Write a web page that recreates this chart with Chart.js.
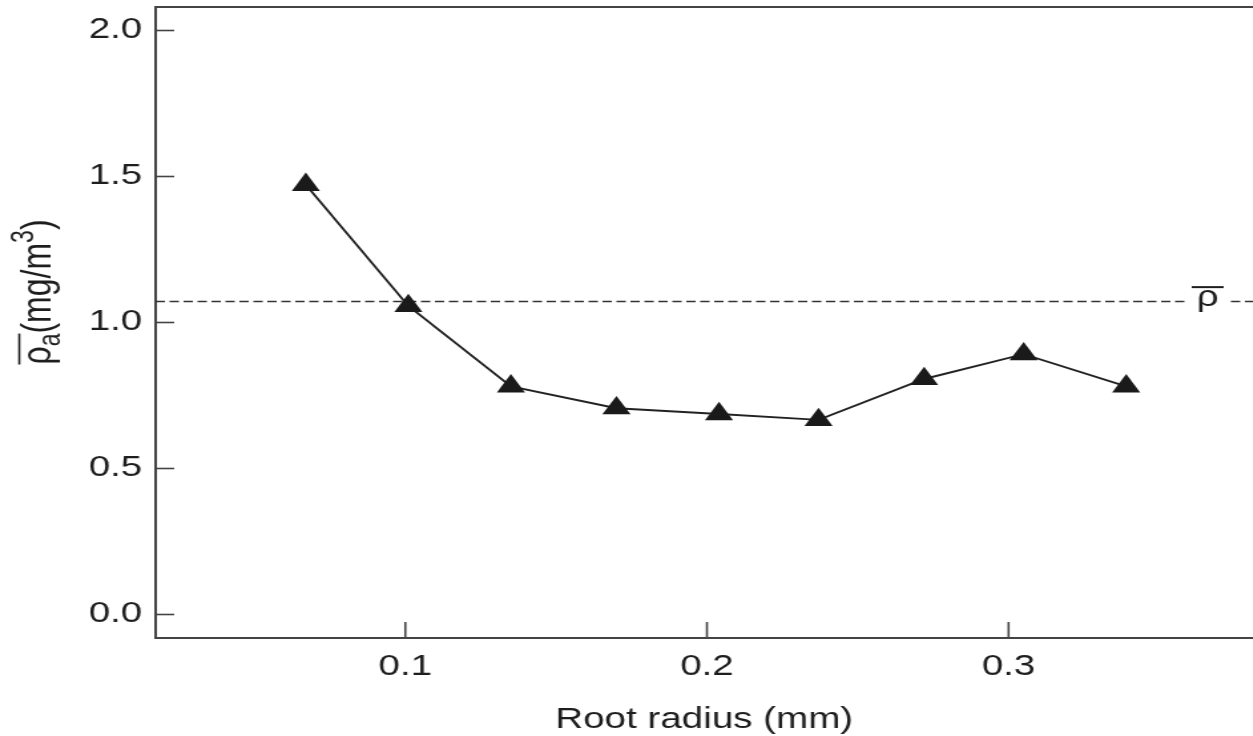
<!DOCTYPE html>
<html>
<head>
<meta charset="utf-8">
<script src="https://cdn.jsdelivr.net/npm/chart.js@4.4.1/dist/chart.umd.min.js"></script>
<style>
  html, body { margin: 0; padding: 0; background: #fff; overflow: hidden; }
  /* the reference picture is stretched sideways, so stretch the whole chart the same way */
  #wrap { width: 942px; height: 736px; transform: scaleX(1.33); transform-origin: 0 0; }
</style>
</head>
<body>
<div id="wrap"><canvas id="rhoChart"></canvas></div>
<script>
// Data
const radius = [0.067, 0.101, 0.135, 0.170, 0.204, 0.237, 0.272, 0.305, 0.339];
const density = [1.47, 1.055, 0.78, 0.705, 0.685, 0.665, 0.805, 0.89, 0.78];
const meanRho = 1.07;
const xTicks = [0.1, 0.2, 0.3];
const yTicks = [0.0, 0.5, 1.0, 1.5, 2.0];
const xRange = [0.0172, 0.381];
const yRange = [-0.082, 2.079];
const rhoLabelX = 0.366;

const textColor = '#1e1e1e';
const axisColor = '#444';
const fontFamily = '"Liberation Sans", Arial, Helvetica, sans-serif';
const fontSize = 29;
const yTitleSize = 32;

Chart.defaults.font.family = fontFamily;
Chart.defaults.color = textColor;

/**
 * Inward tick marks, top frame line, axis titles and the rho-bar label
 */
const axisDecor = {
    id: 'axisDecor',
    afterDatasetsDraw(chart) {
        const ctx = chart.ctx;
        const xs = chart.scales.x;
        const ys = chart.scales.y;

        // label sitting on the dashed mean line
        const lx = xs.getPixelForValue(rhoLabelX);
        const ly = ys.getPixelForValue(meanRho);
        ctx.save();
        ctx.fillStyle = '#fff';
        ctx.fillRect(lx - 15, ly - 4, 30, 8);
        ctx.fillStyle = textColor;
        ctx.font = fontSize + 'px ' + fontFamily;
        ctx.textAlign = 'center';
        ctx.textBaseline = 'alphabetic';
        ctx.fillText('ρ', lx, ly + 4);
        ctx.strokeStyle = textColor;
        ctx.lineWidth = 2;
        ctx.beginPath();
        ctx.moveTo(lx - 12, ly - 14.5);
        ctx.lineTo(lx + 12, ly - 14.5);
        ctx.stroke();
        ctx.restore();
    },
    afterDraw(chart) {
        const ctx = chart.ctx;
        const area = chart.chartArea;
        const xs = chart.scales.x;
        const ys = chart.scales.y;
        ctx.save();
        ctx.strokeStyle = axisColor;
        ctx.lineWidth = 2;

        // top frame line
        ctx.beginPath();
        ctx.moveTo(area.left, area.top);
        ctx.lineTo(area.right, area.top);
        ctx.stroke();

        // inward ticks
        ctx.lineWidth = 1.6;
        yTicks.forEach(v => {
            const py = Math.round(ys.getPixelForValue(v)) + 0.5;
            ctx.beginPath();
            ctx.moveTo(area.left, py);
            ctx.lineTo(area.left + 14, py);
            ctx.stroke();
        });
        xTicks.forEach(v => {
            const px = xs.getPixelForValue(v);
            ctx.beginPath();
            ctx.moveTo(px, area.bottom);
            ctx.lineTo(px, area.bottom - 16);
            ctx.stroke();
        });

        // x axis title
        ctx.fillStyle = textColor;
        ctx.font = fontSize + 'px ' + fontFamily;
        ctx.textAlign = 'center';
        ctx.textBaseline = 'alphabetic';
        ctx.fillText('Root radius (mm)', (area.left + area.right) / 2, 728);

        // y axis title, rotated, with overline, subscript and superscript
        const small = Math.round(yTitleSize * 0.72);
        const parts = [
            { t: 'ρ', size: yTitleSize, dy: 0 },
            { t: 'a', size: small, dy: 7 },
            { t: '(mg/m', size: yTitleSize, dy: 0 },
            { t: '3', size: small, dy: -13 },
            { t: ')', size: yTitleSize, dy: 0 }
        ];
        let total = 0;
        parts.forEach(p => {
            ctx.font = p.size + 'px ' + fontFamily;
            p.w = ctx.measureText(p.t).width;
            total += p.w;
        });
        ctx.translate(37.5, 292);
        ctx.rotate(-Math.PI / 2);
        ctx.textAlign = 'left';
        let u = -total / 2;
        const barStart = u;
        parts.forEach((p, i) => {
            ctx.font = p.size + 'px ' + fontFamily;
            ctx.fillText(p.t, u, p.dy);
            u += p.w;
            if (i === 1) {
                ctx.strokeStyle = textColor;
                ctx.lineWidth = 1.6;
                ctx.beginPath();
                ctx.moveTo(barStart, -23);
                ctx.lineTo(u, -23);
                ctx.stroke();
            }
        });
        ctx.restore();
    }
};

new Chart(document.getElementById('rhoChart'), {
    type: 'scatter',
    data: {
        datasets: [{
            label: 'rho_a',
            data: radius.map((r, i) => ({ x: r, y: density[i] })),
            showLine: true,
            borderColor: '#222',
            borderWidth: 1.9,
            backgroundColor: '#1a1a1a',
            pointStyle: 'triangle',
            pointRadius: 12.2,
            pointBorderWidth: 0,
            tension: 0
        }, {
            label: 'rho mean',
            data: [{ x: xRange[0], y: meanRho }, { x: xRange[1], y: meanRho }],
            showLine: true,
            borderColor: '#333',
            borderWidth: 1.5,
            borderDash: [7, 3.5],
            pointRadius: 0
        }]
    },
    options: {
        responsive: true,
        maintainAspectRatio: false,
        animation: false,
        layout: { autoPadding: false, padding: { top: 7, left: 0, right: 0, bottom: 0 } },
        plugins: {
            legend: { display: false },
            tooltip: { enabled: false }
        },
        scales: {
            x: {
                type: 'linear',
                min: xRange[0],
                max: xRange[1],
                afterBuildTicks: scale => { scale.ticks = xTicks.map(v => ({ value: v })); },
                afterFit: scale => {
                    scale.height = 98;
                    scale.paddingLeft = 0;
                    scale.paddingRight = 0;
                },
                grid: { display: false, drawTicks: false },
                border: { display: true, color: axisColor, width: 2 },
                ticks: {
                    padding: 12,
                    font: { size: fontSize },
                    color: textColor,
                    callback: v => v.toFixed(1)
                }
            },
            y: {
                type: 'linear',
                min: yRange[0],
                max: yRange[1],
                afterBuildTicks: scale => { scale.ticks = yTicks.map(v => ({ value: v })); },
                afterFit: scale => {
                    scale.width = 117;
                    scale.paddingTop = 0;
                    scale.paddingBottom = 0;
                },
                grid: { display: false, drawTicks: false },
                border: { display: true, color: axisColor, width: 2 },
                ticks: {
                    padding: 10,
                    font: { size: fontSize },
                    color: textColor,
                    callback: v => v.toFixed(1)
                }
            }
        }
    },
    plugins: [axisDecor]
});
</script>
</body>
</html>
